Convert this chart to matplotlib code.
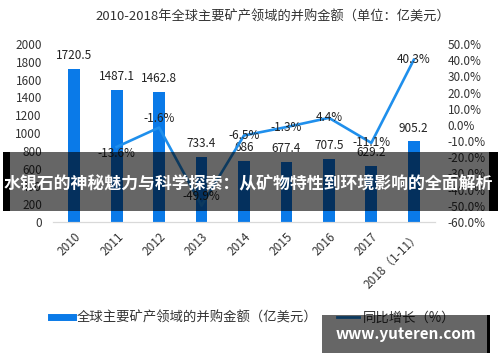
import matplotlib.pyplot as plt
from matplotlib.lines import Line2D
from matplotlib.patches import Rectangle
import numpy as np

plt.rcParams['font.family'] = ['Noto Sans CJK SC', 'DejaVu Sans']

# 数据
years = ['2010', '2011', '2012', '2013', '2014', '2015', '2016', '2017', '2018（1-11）']
amount = [1720.5, 1487.1, 1462.8, 733.4, 686, 677.4, 707.5, 629.2, 905.2]
amount_labels = ['1720.5', '1487.1', '1462.8', '733.4', '686', '677.4', '707.5', '629.2', '905.2']
growth_years = years[1:]
growth = [-13.6, -1.6, -49.9, -6.5, -1.3, 4.4, -11.1, 40.3]

title = '2010-2018年全球主要矿产领域的并购金额（单位：亿美元）'
bar_name = '全球主要矿产领域的并购金额（亿美元）'
line_name = '同比增长（%）'
banner = '水银石的神秘魅力与科学探索：从矿物特性到环境影响的全面解析'
site = 'www.yuteren.com'

bar_color = '#0a7ae8'
line_color = '#1f8fec'
text_color = '#333333'

fig = plt.figure(figsize=(5, 3.62), dpi=100)
ax = fig.add_axes([0.106, 0.387, 0.764, 0.491])
ax2 = ax.twinx()

x = np.arange(len(years))
ax.bar(x, amount, width=0.28, color=bar_color, zorder=2)
ax.set_xlim(-0.5, len(years) - 0.5)
ax.set_ylim(0, 2000)
ax.set_yticks(np.arange(0, 2001, 200))
ax.set_xticks(x)
ax.set_xticklabels(years, rotation=45, ha='right', rotation_mode='anchor')

for xi, v, s in zip(x, amount, amount_labels):
    ax.annotate(s, (xi, v), xytext=(0, 9.5), textcoords='offset points',
                ha='center', va='center', fontsize=8.5, color='#222222')

gx = np.arange(1, len(years))
ax2.plot(gx, growth, color=line_color, lw=1.9, zorder=3)
ax2.set_ylim(-60, 50)
ax2.set_yticks(np.arange(-60, 51, 10))
ax2.set_yticklabels([f'{t:.1f}%' for t in np.arange(-60, 51, 10)])

# 标签偏移(像素)
dy = [-7, 9, 9, 0, 0, 0, 0, 0]
for xi, v, d in zip(gx, growth, dy):
    ax2.annotate(f'{v}%', (xi, v), xytext=(0, d * 0.72), textcoords='offset points',
                 ha='center', va='center', fontsize=8.5, color='#222222')

for a in (ax, ax2):
    for sp in ['top', 'left', 'right']:
        a.spines[sp].set_visible(False)
    a.spines['bottom'].set_color('#d9d9d9')
    a.tick_params(length=0, labelsize=8.5, labelcolor=text_color)
ax.tick_params(axis='y', pad=8)
ax2.tick_params(axis='y', pad=9)
ax.tick_params(axis='x', pad=6)

fig.text(0.545, 0.952, title, ha='center', va='center', fontsize=9.5, color=text_color)

handles = [Line2D([], [], color=bar_color, lw=5),
           Line2D([], [], color=line_color, lw=2)]
fig.legend(handles, [bar_name, line_name], loc='center', bbox_to_anchor=(0.506, 0.122),
           ncol=2, frameon=False, fontsize=9.6, handlelength=1.65, handletextpad=0.25,
           columnspacing=1.5, labelcolor=text_color)

# 覆盖横幅
fig.patches.append(Rectangle((0.006, 0.417), 0.99, 0.163, transform=fig.transFigure,
                             facecolor='black', alpha=0.6, zorder=10))
fig.patches.append(Rectangle((0.006, 0.417), 0.014, 0.163, transform=fig.transFigure,
                             facecolor='black', zorder=10))
fig.patches.append(Rectangle((0.978, 0.417), 0.018, 0.163, transform=fig.transFigure,
                             facecolor='black', zorder=10))
fig.text(0.496, 0.49, banner, ha='center', va='center', fontsize=12.2, color='white',
         fontweight='bold', zorder=11)

fig.patches.append(Rectangle((0.644, 0.025), 0.336, 0.105, transform=fig.transFigure,
                             facecolor='black', alpha=0.6, zorder=10))
fig.patches.append(Rectangle((0.974, 0.025), 0.006, 0.105, transform=fig.transFigure,
                             facecolor='black', zorder=10))
fig.text(0.812, 0.077, site, ha='center', va='center', fontsize=11, color='white',
         fontweight='bold', zorder=11)

fig.savefig('out.png', dpi=100)
